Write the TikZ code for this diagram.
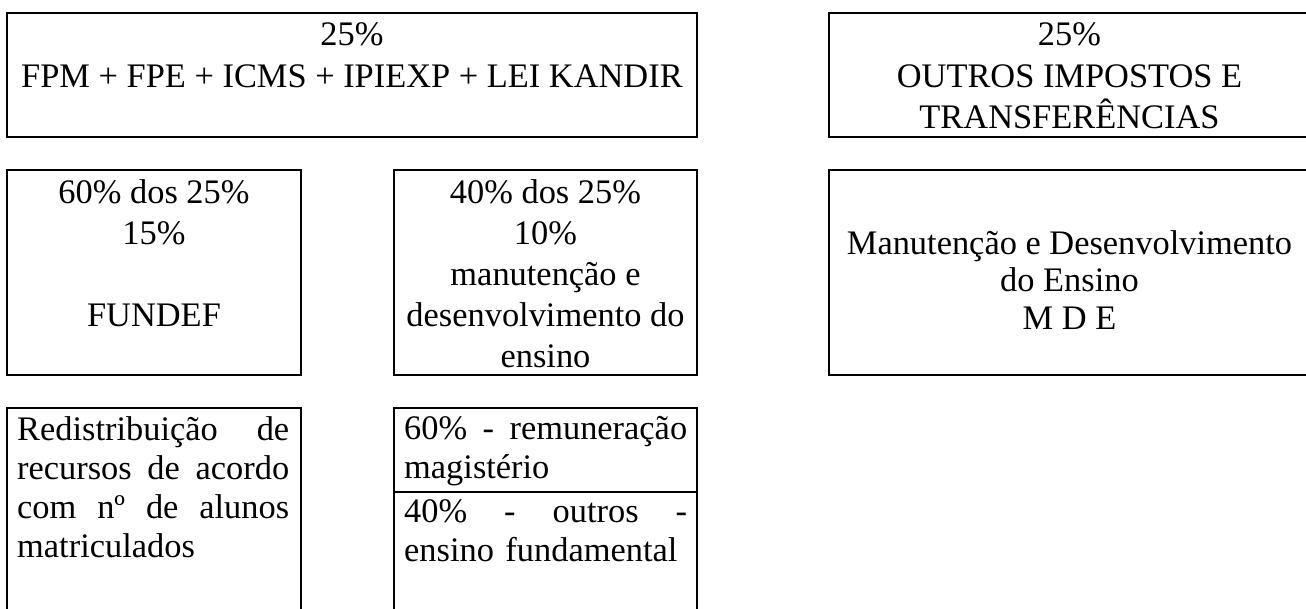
\documentclass[tikz,border=0pt]{standalone}
\usepackage{fontspec}
\setmainfont{Liberation Serif}
\usepackage{tikz}
\usetikzlibrary{positioning}
\tikzset{
  cell/.style={draw,line width=2pt,inner sep=0pt,outer sep=0pt,anchor=north west},
  words/.style={font=\fontsize{34.4}{41}\selectfont,inner sep=0pt,anchor=north,align=center},
  para/.style={words,font=\fontsize{34.4}{39}\selectfont,anchor=north west,align=left,text width=#1}
}

\begin{document}
\begin{tikzpicture}[x=1pt,y=-1pt]
        \useasboundingbox (0,0) rectangle (1306,609);

        % first row
        \node[cell,minimum width=690pt,minimum height=124pt] (fpm) at (7,13) {};
        \node[words,below=9pt of fpm.north] (fpmtxt) {25\%\\[1pt]FPM + FPE + ICMS + IPIEXP + LEI KANDIR};
        \node[cell,minimum width=481pt,minimum height=124pt] (outros) at (829,13) {};
        \node[words,below=9pt of outros.north] (outrostxt) {25\%\\[1pt]OUTROS IMPOSTOS E\\TRANSFERÊNCIAS};

        % second row
        \node[cell,minimum width=294pt,minimum height=205pt] (fundef) at (7,170) {};
        \node[words,below=9.7pt of fundef.north] (fundeftxt) {60\% dos 25\%\\15\%\\[41pt]FUNDEF};
        \node[cell,minimum width=303pt,minimum height=205pt] (dez) at (394,170) {};
        \node[words,below=9.7pt of dez.north] (deztxt)
            {40\% dos 25\%\\10\%\\manutenção e\\desenvolvimento do\\ensino};
        \node[cell,minimum width=481pt,minimum height=205pt] (mde) at (829,170) {};
        \node[words,font=\fontsize{34.4}{37.5}\selectfont,below=60pt of mde.north] (mdetxt)
            {Manutenção e Desenvolvimento\\do Ensino\\M D E};

        % third row
        \node[cell,minimum width=294pt,minimum height=215pt] (redist) at (7,408) {};
        \node[para=272pt,below right=8.5pt and 10pt of redist.north west] (redisttxt)
            {Redistribuição\hfill de\\recursos\hfill de\hfill acordo\\com\hfill nº\hfill de\hfill alunos\\matriculados};
        \node[cell,minimum width=303pt,minimum height=84pt] (magtop) at (394,408) {};
        \node[para=283pt,below right=8.5pt and 10pt of magtop.north west] (magtoptxt)
            {60\%\hfill -\hfill remuneração\\magistério};
        \node[cell,minimum width=303pt,minimum height=131pt] (magbot) at (394,492) {};
        \node[para=283pt,below right=7pt and 10pt of magbot.north west] (magbottxt)
            {40\%\hfill -\hfill outros\hfill -\\ensino fundamental};
\end{tikzpicture}
\end{document}
